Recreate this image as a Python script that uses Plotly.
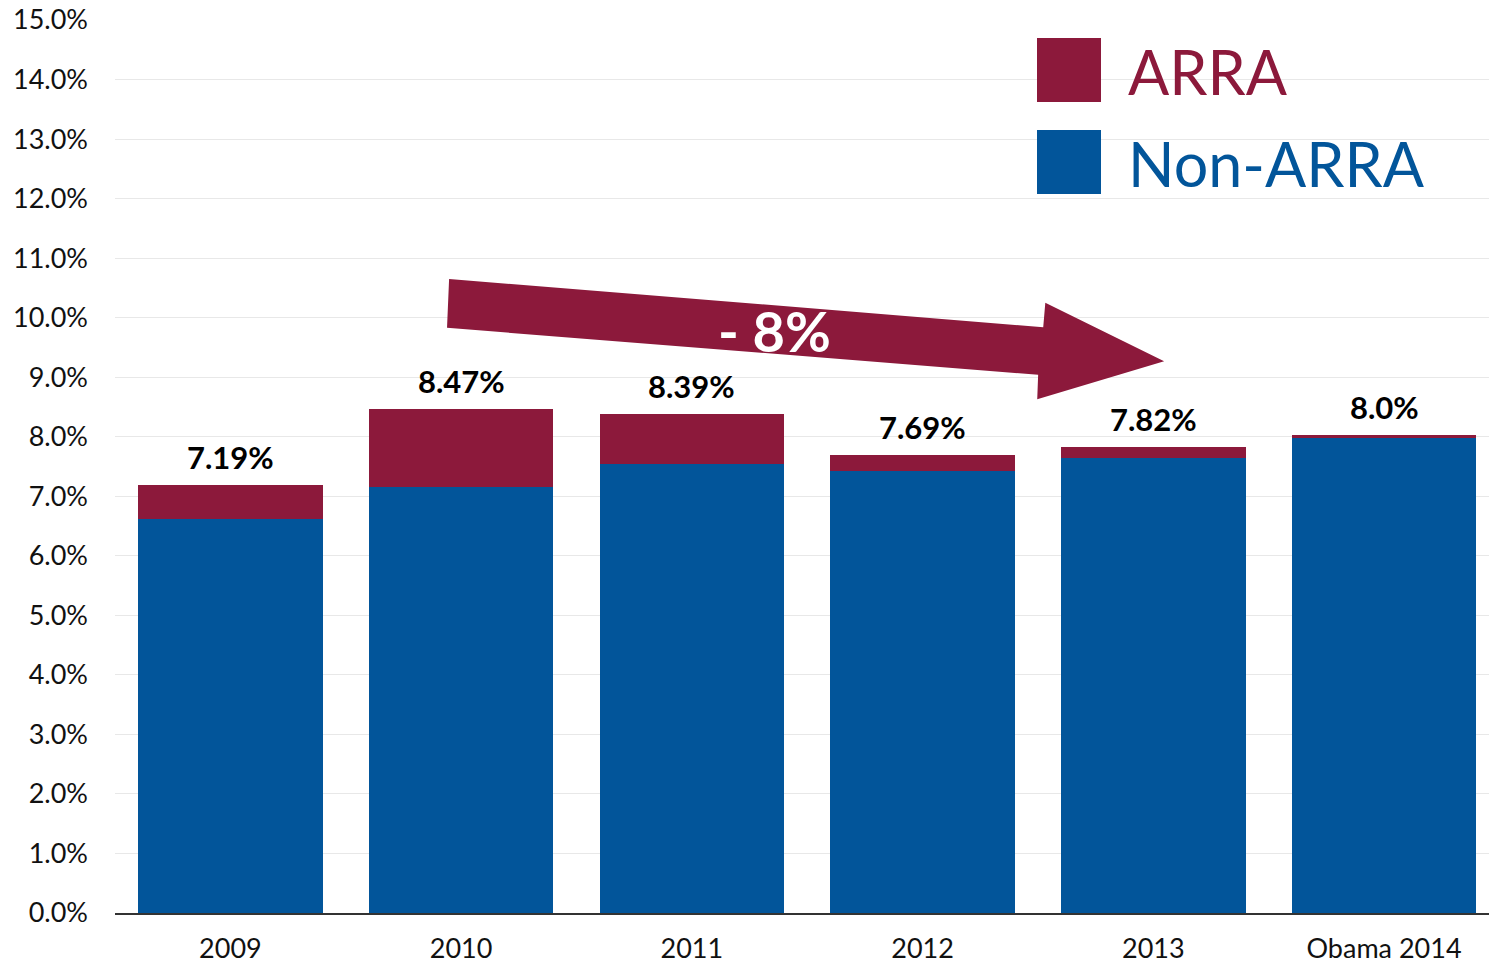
import plotly.graph_objects as go

categories = ["2009", "2010", "2011", "2012", "2013", "Obama 2014"]
non_arra = [6.62, 7.16, 7.54, 7.42, 7.65, 7.98]
arra = [0.57, 1.31, 0.85, 0.27, 0.17, 0.05]
total_labels = ["7.19%", "8.47%", "8.39%", "7.69%", "7.82%", "8.0%"]
y_ticks = [i * 1.0 for i in range(16)]
y_tick_labels = [f"{v:.1f}%" for v in y_ticks]

RED = "#8c193b"
BLUE = "#02559a"
FONT = "Lato"

fig = go.Figure()
fig.add_trace(go.Bar(x=list(range(len(categories))), y=non_arra, name="Non-ARRA",
                     marker=dict(color=BLUE, line=dict(width=0)), showlegend=False))
fig.add_trace(go.Bar(x=list(range(len(categories))), y=arra, name="ARRA",
                     marker=dict(color=RED, line=dict(width=0)), showlegend=False))

annotations = []
for i, (n, a, lab) in enumerate(zip(non_arra, arra, total_labels)):
    annotations.append(dict(x=i, y=n + a, text=f"<b>{lab}</b>", showarrow=False,
                            xref="x", yref="y", yanchor="bottom", yshift=7,
                            font=dict(family=FONT, size=31, color="#000000")))

# arrow shape (annotation graphic)
pts = [(0.948, 10.65), (3.523, 9.84), (3.532, 10.25), (4.047, 9.27),
       (3.497, 8.63), (3.501, 9.04), (0.939, 9.83)]
path = "M " + " L ".join(f"{x},{y}" for x, y in pts) + " Z"
shapes = [dict(type="path", path=path, xref="x", yref="y",
               fillcolor=RED, line=dict(width=0), layer="above")]
annotations.append(dict(x=2.36, y=9.78, xref="x", yref="y", text="<b>- 8%</b>",
                        showarrow=False, font=dict(family=FONT, size=56, color="white")))

# legend drawn manually
def px_x(p):
    return (p - 115) / 1374.0

def px_y(p):
    return (913 - p) / 893.0

legend_items = [("ARRA", RED, 38, 102), ("Non-ARRA", BLUE, 130, 194)]
for name, col, top, bot in legend_items:
    shapes.append(dict(type="rect", xref="paper", yref="paper",
                       x0=px_x(1037), x1=px_x(1101), y0=px_y(bot), y1=px_y(top),
                       fillcolor=col, line=dict(width=0)))
    annotations.append(dict(x=px_x(1126), y=px_y((top + bot) / 2 + 2), xref="paper", yref="paper",
                            text=name, showarrow=False, xanchor="left", yanchor="middle",
                            font=dict(family=FONT, size=61, color=col)))

fig.update_layout(
    barmode="stack",
    bargap=0.2,
    width=1489, height=964,
    margin=dict(l=115, r=0, t=20, b=51),
    plot_bgcolor="white", paper_bgcolor="white",
    shapes=shapes, annotations=annotations,
    xaxis=dict(range=[-0.5, 5.455], tickmode="array", tickvals=list(range(len(categories))),
               ticktext=categories, showgrid=False, zeroline=False,
               showline=True, linecolor="#333333", linewidth=1.5,
               tickfont=dict(family=FONT, size=27, color="#111111"),
               ticks="", ticklabelstandoff=11, automargin=False),
    yaxis=dict(range=[0, 15], tickmode="array", tickvals=y_ticks, ticktext=y_tick_labels,
               showgrid=True, gridcolor="#e8e8e8", gridwidth=1, zeroline=False,
               showline=False, tickfont=dict(family=FONT, size=27, color="#111111"),
               ticks="", ticklabelstandoff=26, automargin=False),
)

fig.write_html("out.html", config={"displayModeBar": False},
               post_script="document.body.style.margin='0';document.body.style.padding='0';")
